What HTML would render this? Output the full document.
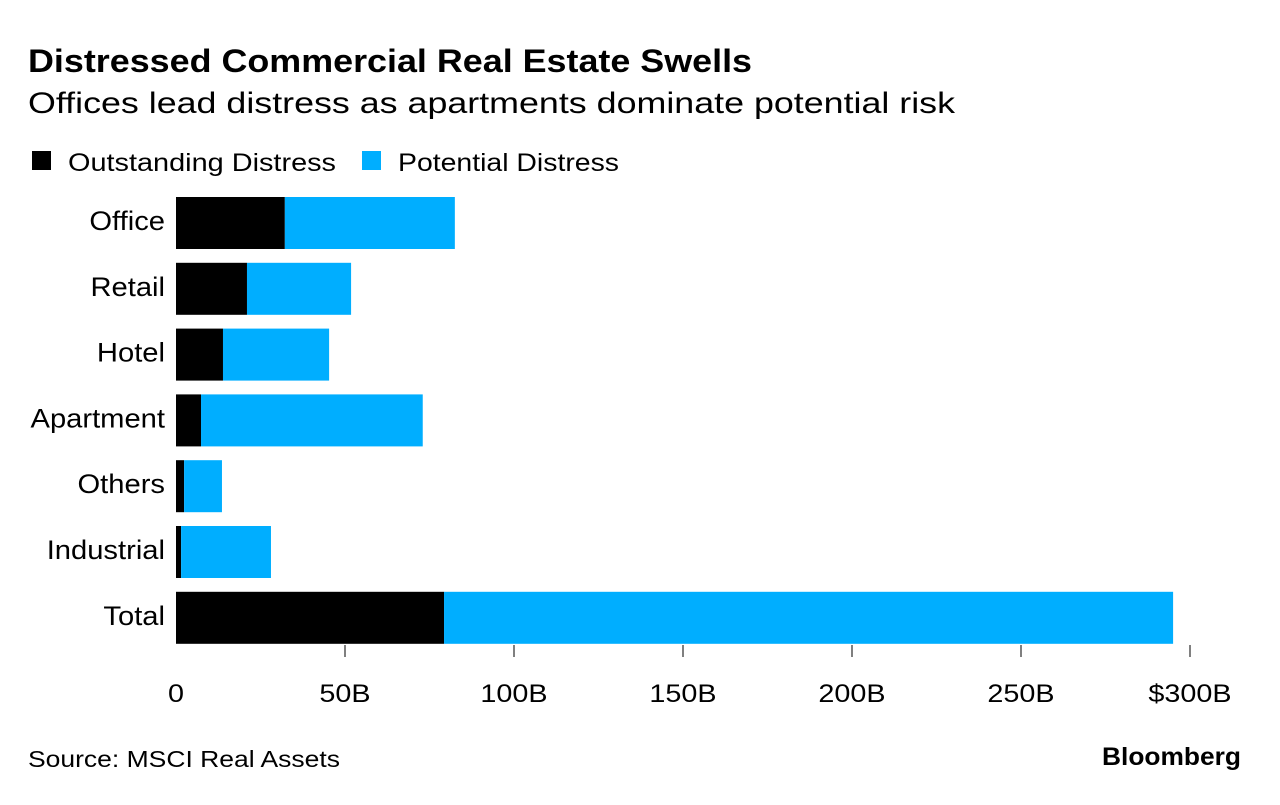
<!DOCTYPE html>
<html><head><meta charset="utf-8"><style>
body{margin:0;width:1280px;height:800px;background:#fff;font-family:"Liberation Sans",sans-serif;overflow:hidden}
svg text{font-family:"Liberation Sans",sans-serif}
</style></head><body>
<svg id="c" width="1280" height="800">
<text x="28" y="72" font-size="32" font-weight="bold" fill="#000" textLength="724" lengthAdjust="spacingAndGlyphs">Distressed Commercial Real Estate Swells</text>
<text x="28" y="113" font-size="30" fill="#000" textLength="927" lengthAdjust="spacingAndGlyphs">Offices lead distress as apartments dominate potential risk</text>
<g>
<rect x="32" y="151" width="19" height="19" fill="#000"/>
<text x="68" y="171" font-size="25" textLength="268" lengthAdjust="spacingAndGlyphs">Outstanding Distress</text>
<rect x="362" y="151" width="19" height="19" fill="#00aeff"/>
<text x="398" y="171" font-size="25" textLength="221" lengthAdjust="spacingAndGlyphs">Potential Distress</text>
</g>
<g id="bars"></g>
<g id="axis"></g>
<text x="28" y="767" font-size="23" textLength="312" lengthAdjust="spacingAndGlyphs">Source: MSCI Real Assets</text>
<text x="1241" y="765" font-size="25" font-weight="bold" text-anchor="end" textLength="139" lengthAdjust="spacingAndGlyphs">Bloomberg</text>
</svg>
<script>
const categories=["Office","Retail","Hotel","Apartment","Others","Industrial","Total"];
const outstanding=[32.2,21,13.9,7.4,2.4,1.5,79.3];
const potential=[50.3,30.8,31.4,65.6,11.2,26.6,215.7];
const tickValues=[0,50,100,150,200,250,300];
const tickLabels=["0","50B","100B","150B","200B","250B","$300B"];
const NS="http://www.w3.org/2000/svg";
const x0=176,pxPer=(1190-176)/300;
const xs=v=>x0+v*pxPer;
const ys=i=>197+i*65.8;
const bh=52;
const bars=document.getElementById('bars'),axis=document.getElementById('axis');
function mk(tag,attrs,parent){const e=document.createElementNS(NS,tag);for(const k in attrs)e.setAttribute(k,attrs[k]);parent.appendChild(e);return e;}
categories.forEach((c,i)=>{
  const y=ys(i);
  const r1=mk('rect',{x:xs(0),y:y,width:xs(outstanding[i])-xs(0),height:bh,fill:'#000'},bars);
  
  
  const r2=mk('rect',{x:xs(outstanding[i]),y:y,width:xs(outstanding[i]+potential[i])-xs(outstanding[i]),height:bh,fill:'#00aeff'},bars);
  
  
  const t=mk('text',{x:165,y:y+bh/2+7,'font-size':27,'text-anchor':'end','transform':'translate(165,0) scale(1.08,1) translate(-165,0)'},bars);
  t.textContent=c;
  
  
});
tickValues.forEach((v,i)=>{
  if(v>0){const l=mk('line',{x1:xs(v),x2:xs(v),y1:645,y2:657,stroke:'#555','stroke-width':1.5},axis);
  
  }
  const cx=xs(v)+(v===300?0:0);
  const t=mk('text',{x:cx,y:702,'font-size':25,'text-anchor':'middle','transform':'translate('+cx+',0) scale(1.15,1) translate('+(-cx)+',0)'},axis);
  t.textContent=tickLabels[i];
  
  
});
</script>
</body></html>
